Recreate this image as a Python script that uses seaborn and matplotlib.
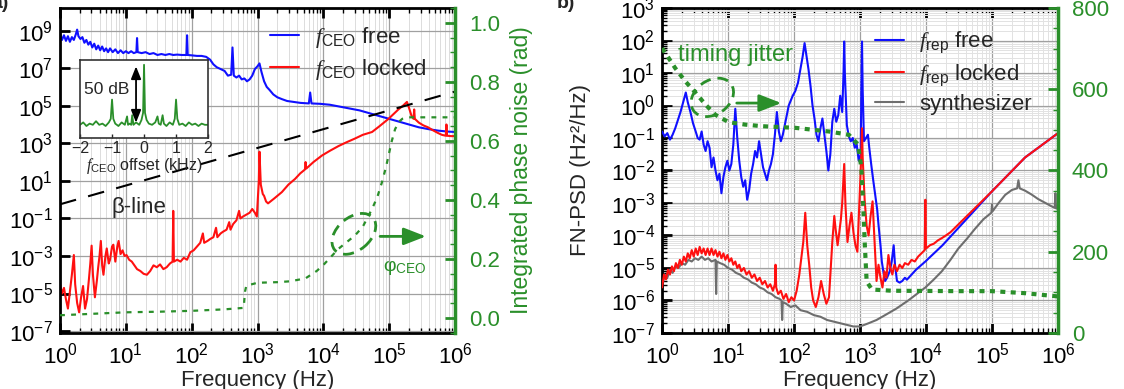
import numpy as np
import matplotlib
matplotlib.use("Agg")
import matplotlib.pyplot as plt
import matplotlib.ticker as mt
from matplotlib.patches import Ellipse
from matplotlib.transforms import ScaledTranslation
import seaborn as sns

sns.set_theme(style="ticks")
plt.rcParams["font.family"] = ["Liberation Sans", "DejaVu Sans"]
plt.rcParams.update({"mathtext.fontset": "custom", "mathtext.rm": "Liberation Sans",
                     "mathtext.it": "Liberation Serif:italic", "mathtext.bf": "Liberation Sans:bold",
                     "font.size": 15})

BLUE, RED, GRAY, GREEN = "#1010ff", "#ff1010", "#6e6e6e", "#2a8f2a"
TICK_FS, LAB_FS = 16, 16

# ---- panel a) : [log10 f (Hz), log10 S_nu (Hz^2/Hz)] ----
ceo_free = np.array([
    [0.00, 8.85], [0.03, 8.5], [0.06, 8.75], [0.09, 8.45], [0.12, 8.7], [0.15, 8.4], [0.18, 8.65],
    [0.21, 8.5], [0.24, 8.8], [0.26, 9.05], [0.28, 8.7], [0.31, 8.55], [0.34, 8.65], [0.37, 8.35],
    [0.40, 8.5], [0.43, 8.25], [0.46, 8.4], [0.49, 8.1], [0.52, 8.3], [0.55, 8.0], [0.58, 8.2],
    [0.61, 7.95], [0.64, 8.15], [0.67, 7.9], [0.70, 8.05], [0.73, 7.85], [0.76, 8.05], [0.80, 7.85],
    [0.84, 8.0], [0.88, 7.8], [0.92, 7.95], [0.96, 7.8], [1.00, 7.9], [1.04, 7.8], [1.08, 7.9],
    [1.12, 7.8], [1.16, 7.85], [1.17, 8.6], [1.18, 7.85], [1.24, 7.8], [1.30, 7.85], [1.36, 7.75],
    [1.42, 7.8], [1.48, 7.7], [1.54, 7.75], [1.60, 7.7], [1.66, 7.75], [1.72, 7.7], [1.78, 7.72],
    [1.85, 7.7], [1.92, 7.7], [1.93, 8.75], [1.94, 7.7], [2.00, 7.68], [2.08, 7.65], [2.15, 7.65],
    [2.22, 7.6], [2.28, 7.45], [2.33, 7.2], [2.38, 7.05], [2.44, 6.95], [2.50, 6.85], [2.55, 6.6],
    [2.60, 6.65], [2.62, 8.1], [2.64, 6.6], [2.68, 6.5], [2.72, 6.6], [2.76, 6.4], [2.80, 6.45],
    [2.84, 6.3], [2.88, 6.4], [2.92, 6.6], [2.96, 6.95], [3.00, 7.1], [3.03, 7.25], [3.06, 6.8],
    [3.10, 6.3], [3.14, 6.0], [3.18, 5.85], [3.24, 5.6], [3.30, 5.45], [3.37, 5.35], [3.45, 5.25],
    [3.55, 5.2], [3.65, 5.15], [3.78, 5.12], [3.80, 5.7], [3.82, 5.12], [3.95, 5.1], [4.10, 5.05],
    [4.25, 4.95], [4.40, 4.85], [4.55, 4.75], [4.70, 4.6], [4.85, 4.45], [5.00, 4.3], [5.15, 4.15],
    [5.30, 4.0], [5.45, 3.85], [5.60, 3.75], [5.75, 3.67], [5.90, 3.62], [6.00, 3.6]])

ceo_locked = np.array([
    [0.00, -4.5], [0.03, -5.0], [0.06, -4.7], [0.09, -5.3], [0.12, -5.8], [0.15, -4.9], [0.18, -4.0],
    [0.21, -2.95], [0.23, -4.5], [0.26, -5.5], [0.29, -6.0], [0.32, -5.2], [0.35, -4.6], [0.38, -5.8],
    [0.41, -5.3], [0.44, -4.2], [0.46, -3.4], [0.48, -2.45], [0.50, -4.0], [0.53, -5.2], [0.56, -4.3],
    [0.58, -3.6], [0.60, -3.0], [0.62, -2.2], [0.64, -3.5], [0.66, -4.0], [0.69, -3.0], [0.71, -2.6],
    [0.74, -3.4], [0.76, -3.2], [0.79, -2.5], [0.81, -2.4], [0.84, -3.3], [0.87, -2.5], [0.89, -2.2],
    [0.92, -2.9], [0.95, -2.7], [0.98, -3.0], [1.01, -2.95], [1.05, -3.2], [1.09, -3.3], [1.13, -3.5],
    [1.17, -3.7], [1.22, -3.8], [1.27, -3.95], [1.32, -4.0], [1.37, -3.8], [1.42, -3.5], [1.47, -3.6],
    [1.52, -3.45], [1.57, -3.7], [1.62, -3.6], [1.67, -3.4], [1.71, -3.3], [1.72, -0.6], [1.73, -3.3],
    [1.78, -3.2], [1.83, -3.3], [1.88, -3.1], [1.93, -3.2], [1.98, -2.8], [2.03, -2.7], [2.08, -2.5],
    [2.13, -2.3], [2.17, -1.8], [2.19, -2.3], [2.24, -2.2], [2.28, -2.1], [2.33, -2.0], [2.37, -1.5],
    [2.39, -2.0], [2.44, -1.8], [2.48, -1.7], [2.53, -1.6], [2.57, -1.2], [2.59, -1.6], [2.63, -1.3],
    [2.68, -1.1], [2.72, -0.6], [2.74, -1.0], [2.78, -0.9], [2.83, -0.8], [2.88, -0.7], [2.92, -0.5],
    [2.96, -0.7], [2.99, -0.9], [3.02, 1.0], [3.03, 2.55], [3.05, 0.8], [3.08, 0.3], [3.10, 0.2],
    [3.13, -0.1], [3.16, -0.2], [3.25, 0.05], [3.37, 0.4], [3.47, 0.8], [3.57, 1.1], [3.65, 1.4],
    [3.72, 1.6], [3.73, 2.0], [3.74, 1.65], [3.85, 2.0], [3.98, 2.35], [4.10, 2.6], [4.23, 2.85],
    [4.35, 3.05], [4.48, 3.25], [4.60, 3.45], [4.74, 3.6], [4.85, 3.9], [4.99, 4.3], [5.08, 4.6],
    [5.14, 4.8], [5.21, 5.0], [5.27, 5.2], [5.30, 4.9], [5.34, 4.45], [5.37, 4.3], [5.38, 4.8],
    [5.39, 4.3], [5.45, 4.1], [5.52, 3.95], [5.59, 3.85], [5.66, 3.7], [5.74, 3.55], [5.80, 3.45],
    [5.86, 3.4], [5.87, 4.0], [5.88, 3.4], [5.94, 3.38], [6.00, 3.38]])

beta_line = np.array([[0.0, -0.25], [6.0, 5.75]])

# integrated phase noise (rad) vs log10 f
phi_ceo = np.array([
    [0.0, 0.01], [0.5, 0.015], [1.0, 0.02], [1.5, 0.022], [2.0, 0.025], [2.5, 0.03], [2.79, 0.035],
    [2.81, 0.09], [2.83, 0.11], [3.0, 0.12], [3.3, 0.122], [3.5, 0.125], [3.73, 0.135], [3.9, 0.16],
    [4.0, 0.18], [4.23, 0.235], [4.48, 0.28], [4.6, 0.31], [4.74, 0.37], [4.82, 0.41], [4.89, 0.46],
    [4.95, 0.51], [4.99, 0.55], [5.04, 0.6], [5.09, 0.64], [5.15, 0.665], [5.2, 0.675], [5.3, 0.68],
    [5.5, 0.68], [5.7, 0.68], [6.0, 0.68]])

# inset: beat note, offset (kHz) vs dB
inset_spec = np.array([
    [-2.0, -50], [-1.9, -48], [-1.8, -51], [-1.7, -49], [-1.6, -50], [-1.5, -47], [-1.4, -50],
    [-1.3, -49], [-1.2, -51], [-1.1, -48], [-1.04, -45], [-1.0, -29], [-0.96, -45], [-0.9, -49],
    [-0.8, -51], [-0.7, -48], [-0.6, -50], [-0.53, -43], [-0.5, -50], [-0.45, -49], [-0.4, -50],
    [-0.37, -42], [-0.33, -50], [-0.25, -48], [-0.15, -50], [-0.08, -46], [-0.03, -40], [0.0, 0],
    [0.03, -40], [0.08, -46], [0.15, -49], [0.25, -50], [0.35, -48], [0.42, -43], [0.46, -49],
    [0.52, -50], [0.58, -42], [0.62, -49], [0.7, -51], [0.8, -48], [0.9, -50], [0.96, -45],
    [1.0, -29], [1.04, -45], [1.1, -50], [1.2, -49], [1.3, -51], [1.4, -48], [1.5, -50],
    [1.6, -49], [1.7, -51], [1.8, -49], [1.9, -50], [2.0, -50]])
inset_ticks = [-2, -1, 0, 1, 2]

# ---- panel b) ----
rep_free = np.array([
    [0.00, -0.8], [0.04, -0.95], [0.08, -0.85], [0.12, -1.05], [0.16, -0.9], [0.20, -0.7], [0.24, -0.45],
    [0.28, -0.2], [0.32, 0.1], [0.36, 0.4], [0.39, 0.1], [0.43, -0.2], [0.47, -0.55], [0.51, -0.8],
    [0.54, -1.0], [0.57, -1.05], [0.60, -0.8], [0.63, -1.2], [0.66, -1.4], [0.69, -1.1], [0.72, -1.3],
    [0.75, -1.9], [0.78, -1.6], [0.81, -2.0], [0.84, -2.3], [0.87, -2.1], [0.90, -2.7], [0.93, -2.2],
    [0.96, -1.9], [0.99, -1.7], [1.02, -2.0], [1.05, -1.8], [1.08, -1.2], [1.11, -0.1], [1.14, -1.0],
    [1.17, -1.7], [1.20, -2.2], [1.23, -2.5], [1.26, -2.3], [1.29, -2.9], [1.32, -2.6], [1.35, -2.1],
    [1.38, -1.8], [1.41, -1.4], [1.44, -1.6], [1.47, -1.1], [1.50, -1.5], [1.53, -1.9], [1.56, -2.1],
    [1.59, -2.3], [1.62, -2.0], [1.65, -1.8], [1.68, -1.5], [1.71, -0.9], [1.74, -0.2], [1.77, -0.8],
    [1.80, -1.1], [1.83, -0.9], [1.86, -0.6], [1.89, -0.3], [1.92, 0.0], [1.95, 0.15], [1.98, 0.3],
    [2.02, 0.45], [2.06, 0.7], [2.10, 1.15], [2.13, 1.5], [2.16, 1.92], [2.19, 1.5], [2.22, 1.1],
    [2.25, 0.6], [2.28, 0.0], [2.31, -0.4], [2.34, -0.9], [2.37, -1.1], [2.40, -0.7], [2.43, -0.4],
    [2.46, -0.9], [2.49, -1.4], [2.52, -2.0], [2.55, -1.5], [2.58, -0.5], [2.61, -0.1], [2.64, -0.5],
    [2.67, -0.3], [2.70, 0.3], [2.73, -0.2], [2.75, 1.0], [2.76, 1.97], [2.77, 1.0], [2.80, -0.6],
    [2.83, -0.95], [2.86, -1.1], [2.89, -1.0], [2.92, -1.3], [2.95, -1.2], [2.98, -1.7], [3.01, -1.5],
    [3.02, 0.5], [3.03, 1.97], [3.04, 0.5], [3.06, -1.1], [3.09, -1.0], [3.12, -0.9], [3.14, -1.3],
    [3.17, -1.82], [3.20, -2.3], [3.23, -2.74], [3.26, -3.2], [3.28, -3.67], [3.31, -4.3], [3.33, -4.8],
    [3.36, -5.2], [3.38, -5.4], [3.41, -5.3], [3.45, -5.1], [3.48, -4.8], [3.51, -4.3], [3.53, -4.9],
    [3.56, -5.4], [3.60, -5.45], [3.64, -5.4], [3.68, -5.3], [3.71, -5.36], [3.85, -5.05], [3.99, -4.8],
    [4.25, -4.3], [4.49, -3.77], [5.00, -2.64], [5.50, -1.6], [6.00, -0.85]])

rep_locked = np.array([
    [0.00, -5.6], [0.03, -5.2], [0.06, -5.35], [0.09, -5.05], [0.12, -5.2], [0.15, -4.95], [0.18, -5.1],
    [0.21, -4.85], [0.24, -5.0], [0.27, -4.75], [0.30, -4.9], [0.33, -4.65], [0.36, -4.8], [0.39, -4.55],
    [0.42, -4.7], [0.45, -4.45], [0.48, -4.65], [0.51, -4.4], [0.54, -4.6], [0.57, -4.35], [0.60, -4.55],
    [0.63, -4.4], [0.66, -4.6], [0.69, -4.4], [0.72, -4.6], [0.75, -4.4], [0.78, -4.6], [0.81, -4.45],
    [0.84, -4.65], [0.87, -4.5], [0.90, -4.7], [0.93, -4.55], [0.96, -4.75], [0.99, -4.6], [1.02, -4.8],
    [1.05, -4.7], [1.08, -4.9], [1.11, -4.8], [1.14, -5.0], [1.17, -4.9], [1.20, -5.1], [1.24, -5.0],
    [1.28, -5.2], [1.32, -5.1], [1.36, -5.3], [1.40, -5.2], [1.44, -5.4], [1.48, -5.3], [1.52, -5.5],
    [1.56, -5.4], [1.60, -5.6], [1.64, -5.5], [1.68, -5.7], [1.71, -5.5], [1.72, -4.9], [1.73, -5.6],
    [1.76, -5.8], [1.80, -5.7], [1.84, -5.95], [1.88, -5.8], [1.92, -6.05], [1.96, -5.9], [2.00, -6.0],
    [2.04, -5.7], [2.08, -5.2], [2.11, -4.7], [2.14, -4.2], [2.17, -3.3], [2.20, -4.3], [2.23, -4.9],
    [2.26, -5.6], [2.29, -6.0], [2.33, -6.2], [2.37, -5.9], [2.41, -5.4], [2.45, -5.8], [2.49, -6.1],
    [2.53, -5.9], [2.56, -4.9], [2.58, -4.2], [2.61, -3.4], [2.63, -3.8], [2.66, -4.3], [2.68, -4.0],
    [2.71, -3.5], [2.73, -3.0], [2.75, -2.2], [2.76, -1.8], [2.78, -3.1], [2.81, -4.2], [2.84, -3.7],
    [2.87, -3.3], [2.90, -3.9], [2.93, -4.3], [2.96, -4.5], [2.99, -3.0], [3.02, -1.5], [3.03, -0.7],
    [3.04, -1.6], [3.07, -2.9], [3.10, -3.7], [3.13, -4.0], [3.16, -3.4], [3.19, -2.95], [3.22, -4.2],
    [3.25, -5.4], [3.28, -4.9], [3.31, -5.3], [3.34, -5.6], [3.37, -5.1], [3.40, -5.3], [3.43, -4.6],
    [3.46, -5.0], [3.49, -5.2], [3.52, -4.9], [3.56, -5.1], [3.60, -4.9], [3.64, -5.0], [3.68, -4.85],
    [3.73, -4.9], [3.78, -4.75], [3.83, -4.8], [3.88, -4.65], [3.93, -4.55], [3.98, -4.45], [3.99, -2.9],
    [4.00, -4.4], [4.06, -4.3], [4.12, -4.25], [4.18, -4.15], [4.24, -4.08], [4.30, -4.0], [4.37, -3.9],
    [5.00, -2.64], [5.50, -1.6], [6.00, -0.85]])

synth = np.array([
    [0.00, -5.6], [0.04, -5.2], [0.08, -5.3], [0.12, -5.05], [0.16, -5.15], [0.20, -4.95], [0.25, -5.0],
    [0.30, -4.85], [0.35, -4.9], [0.40, -4.75], [0.45, -4.8], [0.50, -4.7], [0.55, -4.75], [0.60, -4.65],
    [0.65, -4.75], [0.70, -4.7], [0.75, -4.8], [0.81, -4.75], [0.82, -5.8], [0.83, -4.8], [0.88, -4.85],
    [0.94, -4.9], [1.00, -5.0], [1.06, -5.05], [1.12, -5.15], [1.18, -5.2], [1.24, -5.3], [1.30, -5.35],
    [1.36, -5.45], [1.42, -5.5], [1.48, -5.6], [1.54, -5.65], [1.60, -5.75], [1.66, -5.8], [1.72, -5.9],
    [1.78, -5.95], [1.81, -6.0], [1.82, -6.6], [1.83, -6.05], [1.88, -6.1], [1.95, -6.2], [2.02, -6.15],
    [2.10, -6.3], [2.20, -6.35], [2.30, -6.45], [2.40, -6.5], [2.50, -6.6], [2.60, -6.65], [2.70, -6.7],
    [2.80, -6.75], [2.90, -6.8], [3.00, -6.8], [3.13, -6.7], [3.25, -6.6], [3.38, -6.45], [3.55, -6.25],
    [3.73, -6.0], [3.86, -5.8], [3.99, -5.6], [4.12, -5.35], [4.24, -5.1], [4.37, -4.75], [4.49, -4.4],
    [4.62, -4.1], [4.74, -3.8], [4.87, -3.5], [4.99, -3.3], [5.00, -3.05], [5.01, -3.25], [5.10, -3.0],
    [5.20, -2.75], [5.30, -2.6], [5.38, -2.55], [5.40, -2.3], [5.42, -2.55], [5.50, -2.62], [5.60, -2.74],
    [5.70, -2.88], [5.81, -3.0], [5.90, -3.1], [5.95, -3.15], [5.96, -2.7], [5.97, -3.15], [6.00, -3.2]])

# integrated timing jitter (right axis, 0-800)
jitter = np.array([
    [0.0, 701], [0.1, 677], [0.2, 652], [0.35, 620], [0.51, 591], [0.66, 562], [0.81, 537],
    [1.01, 519], [1.26, 513], [1.52, 509], [2.02, 505], [2.53, 496], [2.83, 488], [2.97, 464],
    [3.02, 406], [3.05, 308], [3.07, 226], [3.1, 127], [3.18, 107], [3.48, 104], [4.49, 103],
    [5.0, 103], [5.5, 98], [6.0, 90]])

x_decades = np.arange(0, 7)


def line(ax, arr, color, lw=1.5, label=None, **kw):
    sns.lineplot(x=10 ** arr[:, 0], y=10 ** arr[:, 1], ax=ax, color=color, lw=lw,
                 estimator=None, sort=False, label=label, legend=False, **kw)


def line_lin(ax, arr, color, lw, **kw):
    sns.lineplot(x=10 ** arr[:, 0], y=arr[:, 1], ax=ax, color=color, lw=lw,
                 estimator=None, sort=False, legend=False, **kw)


def style_log(ax):
    ax.tick_params(which="both", direction="in", top=True, right=False, colors="black")
    ax.tick_params(which="major", length=7, width=2, pad=7, labelsize=TICK_FS)
    ax.tick_params(which="minor", length=3.5, width=1)
    for s in ax.spines.values():
        s.set_linewidth(2); s.set_color("black")
    ax.set_xlabel("Frequency (Hz)", fontsize=LAB_FS, labelpad=1)


def fix_x(ax):
    # applied after twinx, which shares (and would reset) the x axis
    ax.set_xlim(1, 1e6)
    ax.xaxis.set_major_locator(mt.FixedLocator(10.0 ** x_decades))
    ax.xaxis.set_minor_locator(mt.FixedLocator(
        [m * 10.0 ** d for d in x_decades[:-1] for m in range(2, 10)]))
    ax.xaxis.set_major_formatter(mt.LogFormatterSciNotation())
    ax.xaxis.set_minor_formatter(mt.NullFormatter())


def style_twin(ax2, lo, hi, major, minor, fmt):
    ax2.set_ylim(lo, hi)
    ax2.yaxis.set_major_locator(mt.MultipleLocator(major))
    ax2.yaxis.set_minor_locator(mt.MultipleLocator(minor))
    ax2.yaxis.set_major_formatter(mt.FormatStrFormatter(fmt))
    ax2.tick_params(which="both", direction="in", colors=GREEN, labelcolor=GREEN)
    ax2.tick_params(which="major", length=7, width=2, pad=10, labelsize=TICK_FS)
    ax2.tick_params(which="minor", length=3.5, width=1)
    ax2.spines["right"].set_color(GREEN); ax2.spines["right"].set_linewidth(2.5)
    for k in ("left", "top", "bottom"):
        ax2.spines[k].set_visible(False)


def ellipse(fig, ax, cx, cy, w, h, ang):
    tr = fig.dpi_scale_trans + ScaledTranslation(cx, cy, ax.transAxes)
    ax.add_patch(Ellipse((0, 0), w, h, angle=ang, transform=tr, fill=False,
                         ec=GREEN, lw=2, ls=(0, (4, 2.5)), zorder=6, clip_on=False))


fig = plt.figure(figsize=(11.24, 3.89), dpi=100)

# ================= panel a =================
axa = fig.add_axes([0.0534, 0.144, 0.3514, 0.8354])
axa.set_xscale("log"); axa.set_yscale("log")
axa2 = axa.twinx()
style_log(axa)
axa.set_ylim(10 ** -7.1, 10 ** 10.2)
axa.yaxis.set_major_locator(mt.FixedLocator(10.0 ** np.arange(-7, 10, 2)))
axa.yaxis.set_minor_locator(mt.NullLocator())
axa.yaxis.set_major_formatter(mt.LogFormatterSciNotation())
axa.tick_params(axis="y", pad=5)
line(axa, ceo_free, BLUE, label=r"$\mathit{f}_\mathrm{CEO}$ free")
line(axa, ceo_locked, RED, label=r"$\mathit{f}_\mathrm{CEO}$ locked")
line(axa, beta_line, "black", lw=1.5, linestyle=(0, (8, 6)))
axa.text(6.0, 10 ** -0.4, "β-line", fontsize=16, va="center", ha="left")
axa.legend(loc="upper left", bbox_to_anchor=(0.51, 0.975), frameon=False, fontsize=16,
           handlelength=1.3, handletextpad=0.7, labelspacing=0.3, borderaxespad=0)

style_twin(axa2, -0.05, 1.05, 0.2, 0.05, "%.1f")
line_lin(axa2, phi_ceo, GREEN, 1.6, linestyle=(0, (2.2, 2.8)))
axa2.set_ylabel("Integrated phase noise (rad)", color=GREEN, fontsize=16.5, labelpad=7)
fix_x(axa)
axa.grid(True, which="major", color="#a0a0a0", lw=0.9)
axa.grid(True, which="minor", axis="x", color="#dcdcdc", lw=0.7)
ellipse(fig, axa2, 0.744, 0.305, 0.50, 0.33, 40)
axa2.annotate("", xy=(10 ** 5.6, 0.277), xytext=(10 ** 4.82, 0.277),
              arrowprops=dict(arrowstyle="-|>,head_length=0.9,head_width=0.35", color=GREEN, lw=2))
axa2.text(10 ** 5.24, 0.17, r"φ$_\mathrm{CEO}$", color=GREEN, fontsize=14, ha="center", va="center")

# inset
axi = fig.add_axes([0.0712, 0.6452, 0.1139, 0.2006])
axi.set_facecolor("white")
sns.lineplot(x=inset_spec[:, 0], y=inset_spec[:, 1], ax=axi, color=GREEN, lw=1.3,
             estimator=None, sort=False, legend=False)
axi.set_xlim(-2, 2); axi.set_ylim(-61, 4)
axi.set_xticks(inset_ticks); axi.set_yticks([])
axi.tick_params(axis="x", direction="in", length=3, width=1, labelsize=11.5, pad=2)
for s in axi.spines.values():
    s.set_linewidth(1.2); s.set_color("#333333")
axi.annotate("", xy=(-0.25, 1), xytext=(-0.25, -50.5),
             arrowprops=dict(arrowstyle="<|-|>,head_length=0.5,head_width=0.2", color="black", lw=1.3))
axi.text(-1.88, -21, "50 dB", fontsize=12.5, va="center", ha="left")
axi.set_xlabel(r"$\mathit{f}_\mathrm{CEO}$ offset (kHz)", fontsize=11.5, labelpad=0)
axi.set_ylabel("")

# ================= panel b =================
axb = fig.add_axes([0.589, 0.144, 0.3523, 0.8354])
axb.set_xscale("log"); axb.set_yscale("log")
axb2 = axb.twinx()
style_log(axb)
axb.set_ylim(1e-7, 1e3)
y_dec = np.arange(-7, 4)
axb.yaxis.set_major_locator(mt.FixedLocator(10.0 ** y_dec))
axb.yaxis.set_minor_locator(mt.FixedLocator([m * 10.0 ** d for d in y_dec[:-1] for m in range(2, 10)]))
axb.yaxis.set_minor_formatter(mt.NullFormatter())
axb.yaxis.set_major_formatter(mt.LogFormatterSciNotation())
axb.tick_params(axis="y", pad=5)
line(axb, synth, GRAY, label="synthesizer", zorder=2)
line(axb, rep_free, BLUE, label=r"$\mathit{f}_\mathrm{rep}$ free", zorder=3)
line(axb, rep_locked, RED, label=r"$\mathit{f}_\mathrm{rep}$ locked", zorder=4)
axb.set_ylabel("FN-PSD (Hz²/Hz)", fontsize=LAB_FS, labelpad=14)
h, l = axb.get_legend_handles_labels()
order = [1, 2, 0]
axb.legend([h[i] for i in order], [l[i] for i in order], loc="upper left",
           bbox_to_anchor=(0.515, 0.96), frameon=False, fontsize=16,
           handlelength=1.3, handletextpad=0.7, labelspacing=0.3, borderaxespad=0)

style_twin(axb2, 0, 800, 200, 50, "%d")
line_lin(axb2, jitter, GREEN, 3, linestyle=(0, (1.2, 1.3)))
fix_x(axb)
axb.grid(True, which="major", color="#a0a0a0", lw=0.9)
axb.grid(True, which="minor", color="#e2e2e2", lw=0.7)
axb2.text(1.75, 684, "timing jitter", color=GREEN, fontsize=17, ha="left", va="center")
ellipse(fig, axb2, 0.127, 0.725, 0.46, 0.34, 35)
axb2.annotate("", xy=(10 ** 1.85, 566), xytext=(10 ** 1.09, 566),
              arrowprops=dict(arrowstyle="-|>,head_length=0.9,head_width=0.35", color=GREEN, lw=2))

fig.text(0.0, 0.99, "a)", fontsize=14, fontweight="bold", ha="center", va="center")
fig.text(0.5035, 0.99, "b)", fontsize=14, fontweight="bold", ha="center", va="center")

fig.savefig("out.png", dpi=100)
